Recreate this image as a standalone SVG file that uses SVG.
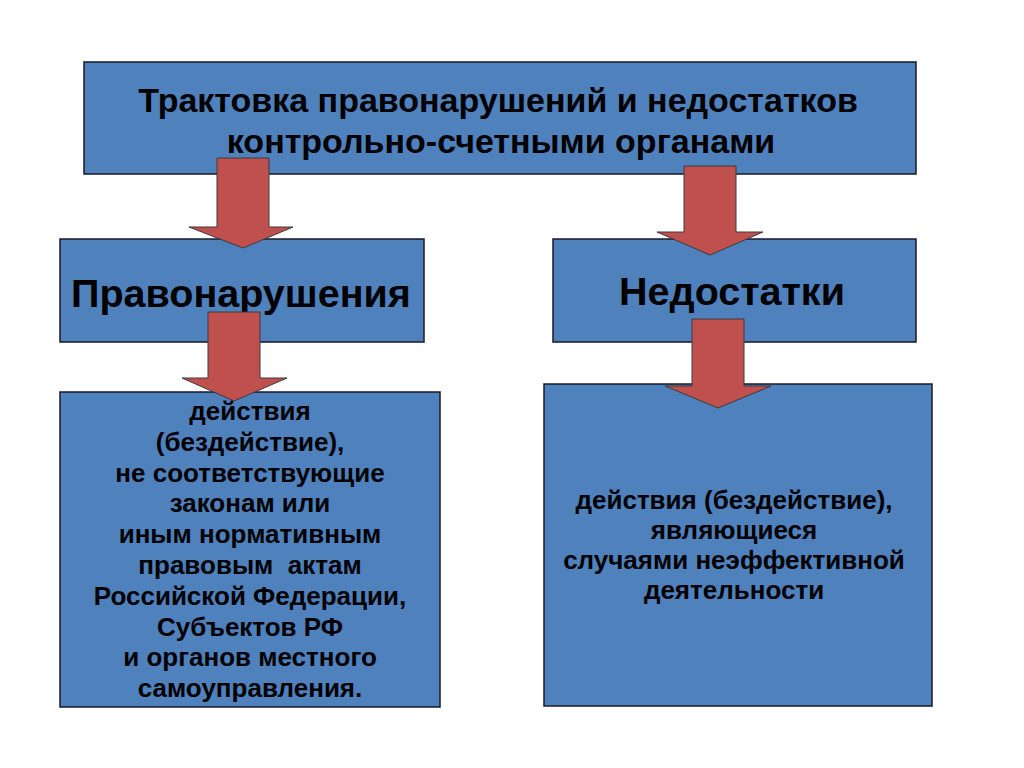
<svg xmlns="http://www.w3.org/2000/svg" width="1024" height="768" viewBox="0 0 1024 768">
<style>
.box{fill:#4F81BD;stroke:#1a1a2a;stroke-width:1.5}
.arr{fill:#C0504D;stroke:#3a3a3a;stroke-width:1}
text{font-family:"Liberation Sans",Arial,sans-serif;font-weight:bold;fill:#000;text-anchor:middle}
.t1{font-size:34px}
.t2{font-size:39.5px}
.t3{font-size:26px}
</style>
<rect width="1024" height="768" fill="#fff"/>
<g id="node-title">
<rect class="box" x="84" y="62" width="832" height="112"/>
<text class="t1" x="498" y="112">Трактовка правонарушений и недостатков</text>
<text class="t1" x="501" y="153">контрольно-счетными органами</text>
</g>
<g id="node-pravo">
<rect class="box" x="60" y="239" width="364" height="103"/>
<text class="t2" x="241" y="307">Правонарушения</text>
</g>
<g id="node-nedost">
<rect class="box" x="553" y="239" width="363" height="103"/>
<text class="t2" x="732" y="305">Недостатки</text>
</g>
<g id="node-pravo-def">
<rect class="box" x="60" y="392" width="380" height="315"/>
<text class="t3" x="250" y="420">действия</text>
<text class="t3" x="250" y="450.8">(бездействие),</text>
<text class="t3" x="250" y="481.6">не соответствующие</text>
<text class="t3" x="250" y="512.4">законам или</text>
<text class="t3" x="250" y="543.2">иным нормативным</text>
<text class="t3" x="250" y="574">правовым&#160; актам</text>
<text class="t3" x="250" y="604.8">Российской Федерации,</text>
<text class="t3" x="250" y="635.6">Субъектов РФ</text>
<text class="t3" x="250" y="666.4">и органов местного</text>
<text class="t3" x="250" y="697.2">самоуправления.</text>
</g>
<g id="node-nedost-def">
<rect class="box" x="544" y="384" width="388" height="322"/>
<text class="t3" x="734" y="509">действия (бездействие),</text>
<text class="t3" x="734" y="539">являющиеся</text>
<text class="t3" x="734" y="569">случаями неэффективной</text>
<text class="t3" x="734" y="599">деятельности</text>
</g>
<g id="connectors">
<polygon class="arr" points="217,158 269,158 269,227 293,227 243,248 189,227 217,227"/>
<polygon class="arr" points="684,166 736,166 736,232 763,232 710,255 657,232 684,232"/>
<polygon class="arr" points="208,312 260,312 260,378 287,378 234,401 182,378 208,378"/>
<polygon class="arr" points="692,319 744,319 744,386 771,386 718,408 665,386 692,386"/>
</g>
</svg>
